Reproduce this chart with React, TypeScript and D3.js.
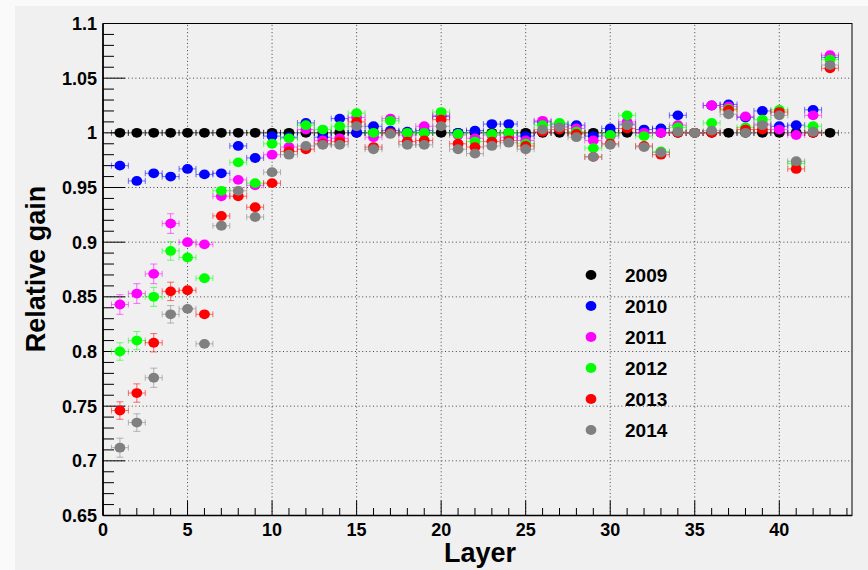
import React from 'react';
import * as d3 from 'd3';

const layers = [1, 2, 3, 4, 5, 6, 7, 8, 9, 10, 11, 12, 13, 14, 15, 16, 17, 18, 19, 20, 21, 22, 23, 24, 25, 26, 27, 28, 29, 30, 31, 32, 33, 34, 35, 36, 37, 38, 39, 40, 41, 42, 43];
const years = ['2009', '2010', '2011', '2012', '2013', '2014'];
const colors = ['#000000', '#0000ff', '#ff00ff', '#00ff00', '#ff0000', '#808080'];

const gain2009 = [1, 1, 1, 1, 1, 1, 1, 1, 1, 1, 1, 1, 1, 1, 1, 1, 1, 1, 1, 1, 1, 1, 1, 1, 1, 1, 1, 1, 1, 1, 1, 1, 1, 1, 1, 1, 1, 1, 1, 1, 1, 1, 1];
const gain2010 = [0.970, 0.956, 0.963, 0.960, 0.967, 0.962, 0.963, 0.988, 0.977, 0.997, 0.996, 1.009, 0.996, 1.013, 1.000, 1.006, 1.002, 1.001, 1.002, 1.015, 1.000, 1.002, 1.008, 1.008, 0.997, 1.010, 1.008, 1.007, 0.997, 1.004, 1.008, 1.003, 1.004, 1.016, 1.000, 1.025, 1.026, 1.014, 1.020, 1.006, 1.007, 1.021, 1.069];
const gain2011 = [0.843, 0.853, 0.871, 0.917, 0.900, 0.898, 0.942, 0.957, 0.952, 0.980, 0.987, 1.003, 0.993, 0.995, 1.014, 0.996, 1.013, 0.998, 1.006, 1.016, 0.998, 0.995, 0.998, 0.996, 0.993, 1.011, 1.006, 1.004, 0.993, 0.997, 1.010, 1.000, 1.000, 1.007, 1.000, 1.025, 1.024, 1.015, 1.008, 1.003, 0.998, 1.016, 1.071];
const gain2012 = [0.800, 0.810, 0.850, 0.892, 0.886, 0.867, 0.947, 0.973, 0.954, 0.990, 0.995, 1.007, 1.003, 1.006, 1.018, 1.000, 1.011, 1.000, 1.000, 1.019, 0.999, 0.992, 0.999, 1.000, 0.990, 1.007, 1.009, 1.001, 0.986, 0.998, 1.016, 0.997, 0.983, 1.005, 1.000, 1.009, 1.022, 1.005, 1.012, 1.021, 0.972, 1.006, 1.067];
const gain2013 = [0.746, 0.762, 0.808, 0.855, 0.856, 0.834, 0.924, 0.942, 0.932, 0.954, 0.983, 0.985, 0.990, 0.992, 1.010, 0.987, 1.000, 0.992, 0.993, 1.012, 0.990, 0.987, 0.992, 0.993, 0.988, 1.001, 1.003, 0.999, 0.978, 0.990, 1.004, 0.988, 0.980, 1.000, 1.000, 1.000, 1.021, 1.003, 1.003, 1.019, 0.967, 1.000, 1.059];
const gain2014 = [0.712, 0.735, 0.776, 0.834, 0.839, 0.807, 0.915, 0.947, 0.923, 0.964, 0.980, 0.988, 0.989, 0.989, 1.006, 0.985, 0.999, 0.989, 0.989, 1.006, 0.985, 0.981, 0.988, 0.991, 0.985, 1.003, 1.005, 0.996, 0.978, 0.989, 1.007, 0.987, 0.982, 1.001, 1.000, 1.002, 1.017, 1.000, 1.007, 1.016, 0.974, 1.001, 1.062];

// vertical (statistical) errors for the first layers; later layers have negligible errors
const err2009: number[] = [];
const err2010: number[] = [];
const err2011 = [0.009, 0.009, 0.009, 0.009];
const err2012 = [0.008, 0.0083, 0.0087, 0.0085];
const err2013 = [0.008, 0.0084, 0.0084, 0.0084];
const err2014 = [0.0087, 0.008, 0.0088, 0.008];

const allGains = [gain2009, gain2010, gain2011, gain2012, gain2013, gain2014];
const allErrs = [err2009, err2010, err2011, err2012, err2013, err2014];

const yTicks = [0.65, 0.7, 0.75, 0.8, 0.85, 0.9, 0.95, 1, 1.05, 1.1];
const yTickLabels = ['0.65', '0.7', '0.75', '0.8', '0.85', '0.9', '0.95', '1', '1.05', '1.1'];
const xTicks = [0, 5, 10, 15, 20, 25, 30, 35, 40];
const xTickLabels = ['0', '5', '10', '15', '20', '25', '30', '35', '40'];

const W = 868;
const H = 570;
const FONT = "'Liberation Sans', Arial, Helvetica, sans-serif";

export default function App() {
  const x = d3.scaleLinear().domain([0, 44.3]).range([103, 852]);
  const y = d3.scaleLinear().domain([0.65, 1.1]).range([515.5, 23.5]);
  const [x0, x1] = x.range();
  const [yb, yt] = y.range();

  const yMinor = d3.range(65, 111).map((v) => v / 100);
  const xMinor = d3.range(0, 45);

  const legendX = 591;
  const legendY0 = 275;
  const legendDy = 31;
  const RX = 5.4;
  const RY = 4.9;

  return (
    <svg
      width={W}
      height={H}
      style={{ position: 'absolute', left: 0, top: 0, display: 'block' }}
      fontFamily={FONT}
    >
      <rect x={0} y={0} width={W} height={H} fill="#fafafa" />
      <rect x={15} y={6} width={W - 15} height={H - 6} fill="#f0f0f0" />

      {/* grid */}
      <g stroke="#444" strokeWidth={1} strokeDasharray="1,2.6">
        {yTicks.filter((t) => t > 0.65 && t < 1.1).map((t) => (
          <line key={'gy' + t} x1={x0} x2={x1} y1={y(t)} y2={y(t)} />
        ))}
        {xTicks.filter((t) => t > 0).map((t) => (
          <line key={'gx' + t} x1={x(t)} x2={x(t)} y1={yb} y2={yt} />
        ))}
      </g>

      {/* frame */}
      <rect x={x0} y={yt} width={x1 - x0} height={yb - yt} fill="none" stroke="#000" strokeWidth={1} />
      <line x1={x0} x2={x0} y1={yt} y2={yb} stroke="#000" strokeWidth={1.6} />
      <line x1={x0} x2={x1} y1={yb} y2={yb} stroke="#000" strokeWidth={1.6} />

      {/* ticks */}
      <g stroke="#000" strokeWidth={1}>
        {yMinor.map((t, i) => {
          const major = i % 5 === 0;
          return <line key={'yt' + i} x1={x0} x2={x0 + (major ? 22 : 11)} y1={y(t)} y2={y(t)} />;
        })}
        {xMinor.map((t) => {
          const major = t % 5 === 0;
          return <line key={'xt' + t} x1={x(t)} x2={x(t)} y1={yb} y2={yb - (major ? 15 : 7.5)} />;
        })}
      </g>

      {/* tick labels */}
      <g fontSize={18} fontWeight="bold" fill="#000">
        {yTicks.map((t, i) => (
          <text key={'yl' + t} x={97} y={y(t)} dy="0.36em" textAnchor="end">
            {yTickLabels[i]}
          </text>
        ))}
        {xTicks.map((t, i) => (
          <text key={'xl' + t} x={x(t)} y={536} textAnchor="middle">
            {xTickLabels[i]}
          </text>
        ))}
      </g>

      {/* axis titles */}
      <text x={480} y={562} textAnchor="middle" fontSize={27} fontWeight="bold">
        Layer
      </text>
      <text
        transform={`translate(45, 269) rotate(-90)`}
        textAnchor="middle"
        fontSize={27}
        fontWeight="bold"
      >
        Relative gain
      </text>

      {/* data */}
      {allGains.map((gains, si) => (
        <g key={'s' + si}>
          <g stroke={colors[si]} strokeOpacity={0.55} strokeWidth={1}>
            {layers.map((l, i) => {
              const cx = x(l);
              const cy = y(gains[i]);
              const xa = x(l - 0.5);
              const xb = x(l + 0.5);
              const e = allErrs[si][i] || 0;
              return (
                <g key={'e' + i}>
                  <line x1={xa} x2={xb} y1={cy} y2={cy} />
                  <line x1={xa} x2={xa} y1={cy - 3} y2={cy + 3} />
                  <line x1={xb} x2={xb} y1={cy - 3} y2={cy + 3} />
                  {e > 0 && (
                    <>
                      <line x1={cx} x2={cx} y1={y(gains[i] - e)} y2={y(gains[i] + e)} />
                      <line x1={cx - 3.5} x2={cx + 3.5} y1={y(gains[i] - e)} y2={y(gains[i] - e)} />
                      <line x1={cx - 3.5} x2={cx + 3.5} y1={y(gains[i] + e)} y2={y(gains[i] + e)} />
                    </>
                  )}
                </g>
              );
            })}
          </g>
          <g fill={colors[si]}>
            {layers.map((l, i) => (
              <ellipse key={'m' + i} cx={x(l)} cy={y(gains[i])} rx={RX} ry={RY} />
            ))}
          </g>
        </g>
      ))}

      {/* legend */}
      {years.map((yr, i) => (
        <g key={'lg' + yr}>
          <ellipse cx={legendX} cy={legendY0 + i * legendDy} rx={RX} ry={RY} fill={colors[i]} />
          <text
            x={legendX + 34}
            y={legendY0 + i * legendDy}
            dy="0.36em"
            fontSize={19}
            fontWeight="bold"
          >
            {yr}
          </text>
        </g>
      ))}
    </svg>
  );
}
